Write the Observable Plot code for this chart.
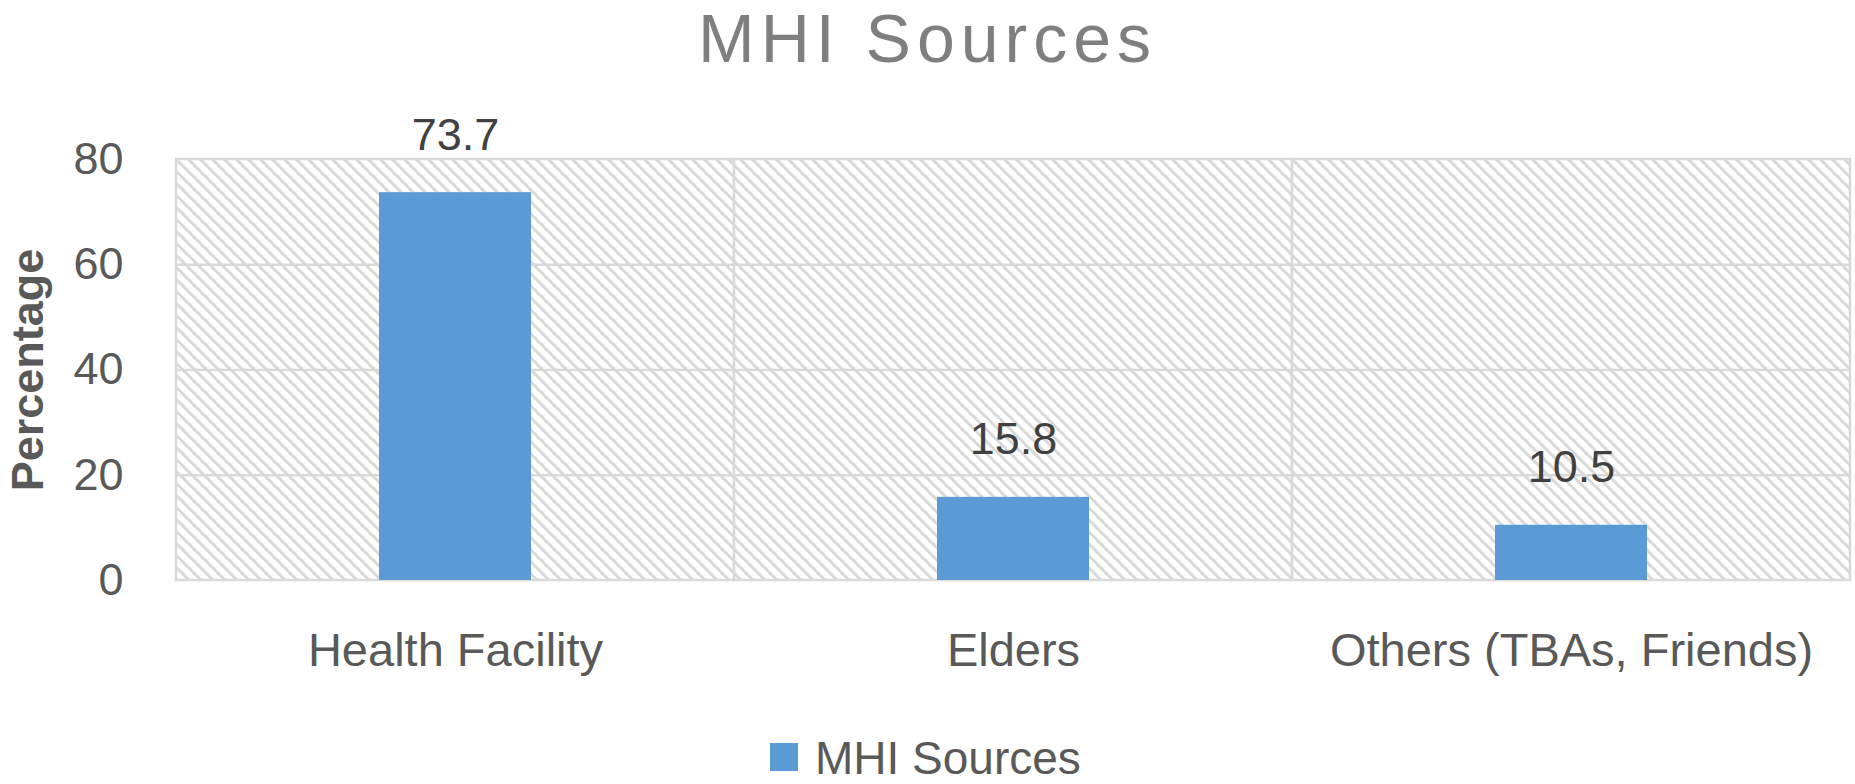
<!DOCTYPE html>
<html>
<head>
<meta charset="utf-8">
<script src="https://cdn.jsdelivr.net/npm/d3@7"></script>
<script src="https://cdn.jsdelivr.net/npm/@observablehq/plot@0.6"></script>
<style>
  html, body { margin: 0; padding: 0; background: #fff; }
  body { width: 1855px; height: 784px; overflow: hidden; position: relative; font-family: "Liberation Sans", Arial, sans-serif; }
  #title { position: absolute; left: 0; top: 0; width: 1855px; height: 77px; line-height: 77px; text-align: center; font-size: 68px; letter-spacing: 6px; color: #7f7f7f; }
  #chart { position: absolute; left: 0; top: 67px; }
  #legend { position: absolute; left: 0; top: 697px; width: 1855px; height: 87px; }
  #legend .sw { position: absolute; left: 770px; top: 46px; width: 28px; height: 28px; background: #5b9bd5; }
  #legend .lb { position: absolute; left: 815px; top: 38px; font-size: 46px; line-height: 46px; color: #595959; white-space: nowrap; }
</style>
</head>
<body>
<div id="title">MHI Sources</div>
<div id="chart"></div>
<div id="legend"><span class="sw"></span><span class="lb">MHI Sources</span></div>
<script>
const categories = ["Health Facility", "Elders", "Others (TBAs, Friends)"];
const values = [73.7, 15.8, 10.5];
const yTicks = [0, 20, 40, 60, 80];
const gridValues = [20, 40, 60];
const seriesName = "MHI Sources";
const axisTitle = "Percentage";

const data = categories.map((c, i) => ({category: c, value: values[i]}));

const hatchDefs = () => {
  const defs = d3.create("svg:defs");
  const p = defs.append("pattern")
    .attr("id", "hatch")
    .attr("patternUnits", "userSpaceOnUse")
    .attr("width", 12).attr("height", 12);
  p.append("rect").attr("width", 12).attr("height", 12).attr("fill", "#ffffff");
  p.append("path")
    .attr("d", "M-2,-2 L14,14 M-2,10 L2,14 M10,-2 L14,2")
    .attr("stroke", "#d9d9d9").attr("stroke-width", 3);
  return defs.node();
};

const chart = Plot.plot({
  width: 1855,
  height: 640,
  marginTop: 92,
  marginBottom: 127,
  marginLeft: 175,
  marginRight: 4,
  style: {fontFamily: "'Liberation Sans', Arial, sans-serif", color: "#595959", background: "#ffffff"},
  x: {type: "band", domain: categories, padding: 0, label: null},
  y: {domain: [0, 80], label: null},
  marks: [
    hatchDefs,
    Plot.cell(categories, {x: d => d, fill: "url(#hatch)", stroke: "#d9d9d9", strokeWidth: 2.5}),
    Plot.ruleY(gridValues, {stroke: "#d9d9d9", strokeWidth: 2.5}),
    Plot.barY(data, {x: "category", y: "value", fill: "#5b9bd5", insetLeft: 203, insetRight: 203}),
    Plot.text(data, {x: "category", y: "value", text: d => d.value.toFixed(1), lineAnchor: "bottom", dy: -43, fontSize: 45, fill: "#404040"}),
    Plot.axisY({ticks: yTicks, tickSize: 0, tickPadding: 52, fontSize: 45, label: null}),
    Plot.axisX({tickSize: 0, tickPadding: 52, fontSize: 47, label: null}),
    Plot.text([axisTitle], {frameAnchor: "left", textAnchor: "middle", rotate: -90, dx: -147, fontSize: 45, fontWeight: "bold", fill: "#595959"})
  ]
});
document.getElementById("chart").appendChild(chart);
</script>
</body>
</html>
